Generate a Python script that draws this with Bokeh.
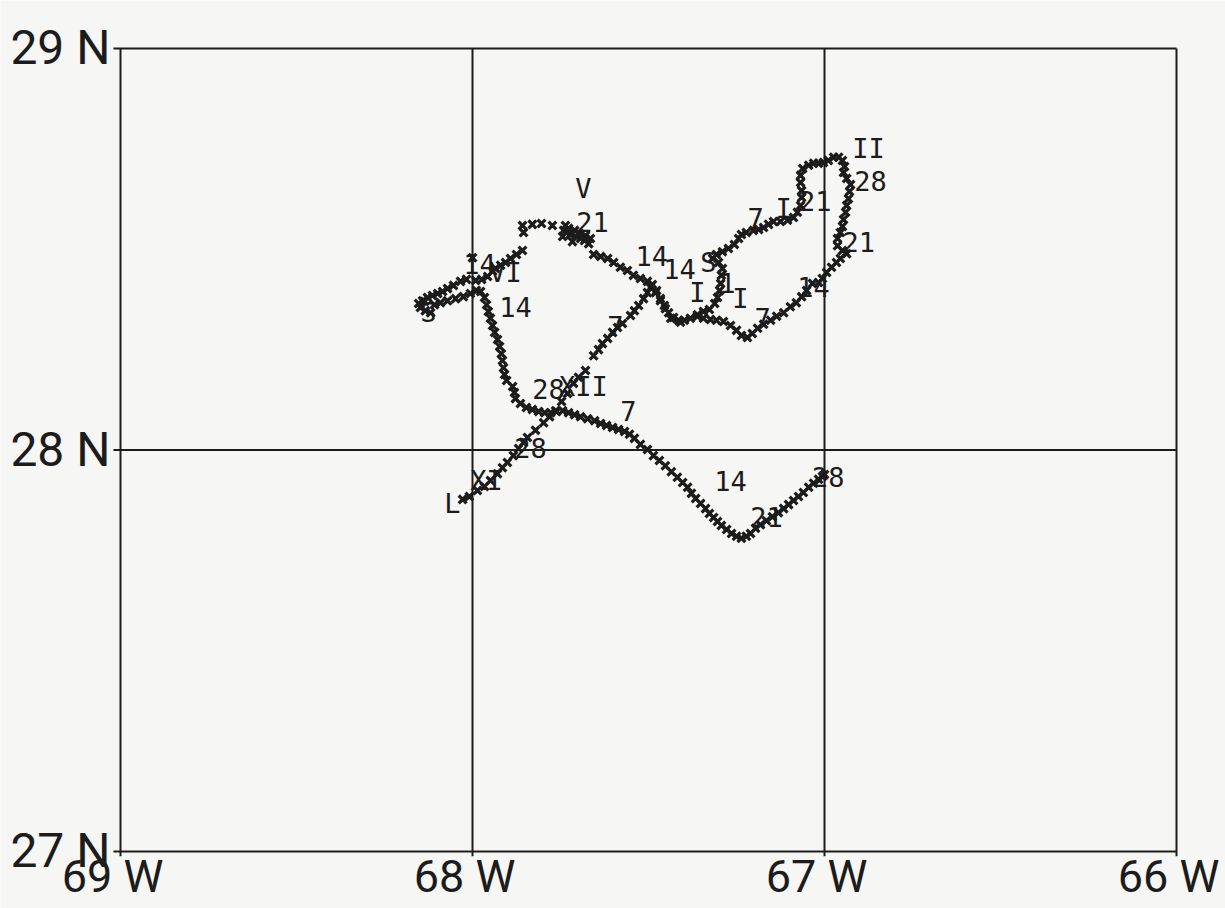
from bokeh.plotting import figure
from bokeh.models import Range1d, ColumnDataSource
from bokeh.core.properties import value
from bokeh.embed import file_html
from bokeh.resources import INLINE

# ---- axis ticks ----
lon_ticks = [-69, -68, -67, -66]
lon_tick_labels = ["69 W", "68 W", "67 W", "66 W"]
lat_ticks = [29, 28, 27]
lat_tick_labels = ["29 N", "28 N", "27 N"]

# ---- drifter track (lon, lat), one marker per fix ----
track_lon = [
    -68.028, -68.009, -67.986, -67.966, -67.949, -67.929, -67.915, -67.901, -67.884, -67.869,
    -67.855, -67.844, -67.821, -67.798, -67.781, -67.764, -67.747, -67.730, -67.713, -67.699,
    -67.679, -67.656, -67.642, -67.631, -67.616, -67.602, -67.588, -67.574, -67.551, -67.540,
    -67.528, -67.514, -67.503, -67.494, -67.489,
    -67.477, -67.466, -67.455, -67.443, -67.429, -67.415, -67.398, -67.381, -67.361, -67.344,
    -67.327, -67.312, -67.304, -67.298, -67.295, -67.293, -67.290, -67.301, -67.318, -67.307,
    -67.290, -67.273, -67.256, -67.244, -67.236, -67.222, -67.202, -67.187, -67.173, -67.159,
    -67.145, -67.125, -67.105, -67.088, -67.077, -67.068, -67.065, -67.065, -67.068, -67.068,
    -67.062, -67.045, -67.031, -67.017, -67.003, -66.989, -66.974, -66.960, -66.949, -66.943,
    -66.946, -66.937, -66.926, -66.929, -66.932, -66.937, -66.940, -66.946, -66.949, -66.955,
    -66.963, -66.963, -66.949, -66.937, -66.955, -66.966, -66.980, -66.994, -67.006, -67.017,
    -67.034, -67.051, -67.065, -67.080, -67.097, -67.116, -67.136, -67.153, -67.173, -67.190,
    -67.205, -67.219, -67.236, -67.250, -67.267, -67.287, -67.307, -67.324, -67.344, -67.361,
    -67.409, -67.437, -67.452, -67.466, -67.480,
    -67.503, -67.523, -67.543, -67.560, -67.580, -67.599, -67.616, -67.636, -67.656,
    -67.670, -67.682, -67.693, -67.707, -67.722, -67.733, -67.741, -67.727, -67.710, -67.696,
    -67.679, -67.665, -67.736, -67.744, -67.716,
    -67.773, -67.804, -67.830, -67.858, -67.855,
    -67.858, -67.875, -67.892, -67.906, -67.920, -67.935, -67.943, -67.957, -67.974, -67.991,
    -68.000, -68.017, -68.034, -68.054, -68.071, -68.085, -68.099, -68.114, -68.128, -68.142,
    -68.153, -68.148, -68.134, -68.119, -68.136, -68.108, -68.091, -68.071, -68.048, -68.026,
    -68.006, -67.989, -67.977, -67.966, -67.960, -67.955, -67.949, -67.943, -67.937, -67.929,
    -67.923, -67.918, -67.915, -67.912, -67.909, -67.903, -67.886, -67.881, -67.878, -67.864,
    -67.847, -67.830, -67.812, -67.795, -67.778, -67.761, -67.744, -67.727, -67.710, -67.693,
    -67.673, -67.653, -67.636, -67.619, -67.602, -67.585, -67.568, -67.554, -67.540, -67.523,
    -67.503, -67.486, -67.469, -67.452, -67.435, -67.418, -67.403, -67.389, -67.378, -67.366,
    -67.352, -67.338, -67.327, -67.315, -67.304, -67.293, -67.278, -67.264, -67.250, -67.236,
    -67.222, -67.210, -67.196, -67.182, -67.165, -67.148, -67.131, -67.116, -67.102, -67.088,
    -67.074, -67.060, -67.045, -67.031, -67.017, -67.006, -67.000,
]
track_lat = [
    27.877, 27.884, 27.899, 27.909, 27.924, 27.941, 27.956, 27.969, 27.986, 28.004,
    28.019, 28.031, 28.049, 28.068, 28.083, 28.098, 28.121, 28.141, 28.166, 28.181,
    28.198, 28.235, 28.250, 28.265, 28.278, 28.293, 28.305, 28.315, 28.335, 28.347,
    28.360, 28.377, 28.392, 28.405, 28.412,
    28.397, 28.377, 28.360, 28.342, 28.330, 28.323, 28.323, 28.328, 28.337, 28.345,
    28.350, 28.365, 28.380, 28.397, 28.415, 28.435, 28.452, 28.467, 28.477, 28.487,
    28.494, 28.502, 28.512, 28.527, 28.537, 28.542, 28.547, 28.549, 28.554, 28.562,
    28.569, 28.569, 28.572, 28.579, 28.592, 28.609, 28.629, 28.646, 28.666, 28.684,
    28.701, 28.709, 28.714, 28.714, 28.716, 28.721, 28.729, 28.729, 28.721, 28.706,
    28.691, 28.676, 28.661, 28.644, 28.626, 28.609, 28.592, 28.574, 28.557, 28.542,
    28.527, 28.509, 28.497, 28.489, 28.477, 28.467, 28.455, 28.442, 28.427, 28.417,
    28.415, 28.397, 28.382, 28.367, 28.357, 28.342, 28.333, 28.323, 28.313, 28.303,
    28.290, 28.280, 28.285, 28.298, 28.310, 28.320, 28.323, 28.325, 28.328, 28.333,
    28.318, 28.328, 28.352, 28.372, 28.392,
    28.420, 28.427, 28.435, 28.447, 28.455, 28.467, 28.477, 28.482, 28.487,
    28.514, 28.522, 28.527, 28.532, 28.537, 28.542, 28.547, 28.552, 28.547, 28.539,
    28.534, 28.527, 28.559, 28.532, 28.519,
    28.559, 28.564, 28.562, 28.559, 28.542,
    28.497, 28.487, 28.477, 28.467, 28.460, 28.452, 28.445, 28.432, 28.425, 28.422,
    28.479, 28.425, 28.420, 28.410, 28.402, 28.395, 28.390, 28.385, 28.380, 28.372,
    28.365, 28.355, 28.347, 28.342, 28.370, 28.362, 28.367, 28.372, 28.377, 28.382,
    28.390, 28.397, 28.395, 28.380, 28.362, 28.345, 28.328, 28.310, 28.293, 28.275,
    28.258, 28.240, 28.223, 28.205, 28.188, 28.173, 28.158, 28.143, 28.128, 28.116,
    28.106, 28.101, 28.096, 28.093, 28.093, 28.096, 28.098, 28.093, 28.088, 28.083,
    28.078, 28.073, 28.066, 28.061, 28.056, 28.051, 28.046, 28.039, 28.029, 28.014,
    28.001, 27.986, 27.974, 27.961, 27.946, 27.932, 27.919, 27.907, 27.892, 27.879,
    27.867, 27.854, 27.842, 27.832, 27.822, 27.812, 27.802, 27.792, 27.785, 27.780,
    27.785, 27.792, 27.805, 27.814, 27.824, 27.834, 27.844, 27.854, 27.864, 27.874,
    27.884, 27.894, 27.907, 27.917, 27.927, 27.934, 27.939,
]

# ---- date / month annotations along the track ----
label_text = ["II", "28", "7", "I", "21", "21", "14", "7", "I", "1", "S", "14", "14", "I",
              "7", "V", "21", "14", "VI", "14", "S", "28", "XII", "7", "28", "XI", "L",
              "14", "21", "28"]
label_lon = [-66.875, -66.869, -67.196, -67.116, -67.026, -66.903, -67.031, -67.176, -67.239,
             -67.276, -67.330, -67.491, -67.412, -67.361, -67.594, -67.685, -67.659, -67.980,
             -67.906, -67.878, -68.125, -67.784, -67.685, -67.557, -67.835, -67.960, -68.057,
             -67.267, -67.165, -66.989]
label_lat = [28.751, 28.671, 28.577, 28.601, 28.621, 28.517, 28.405, 28.328, 28.377,
             28.415, 28.467, 28.484, 28.452, 28.392, 28.310, 28.652, 28.567, 28.464,
             28.442, 28.357, 28.342, 28.153, 28.158, 28.098, 28.006, 27.924, 27.867,
             27.924, 27.834, 27.932]

INK = "#1c1c1c"
PAPER = "#f6f6f4"

p = figure(width=1225, height=908, output_backend="svg", toolbar_location=None,
           x_axis_location=None, y_axis_location=None, min_border=0,
           x_range=Range1d(-69.3409, -65.8608), y_range=Range1d(26.8580, 29.1196),
           background_fill_color=PAPER, border_fill_color=PAPER, outline_line_color=None)
p.xgrid.visible = False
p.ygrid.visible = False

# frame and grid lines (graticule)
lon_min, lon_max = min(lon_ticks), max(lon_ticks)
lat_min, lat_max = min(lat_ticks), max(lat_ticks)
p.segment(x0=[lon_min - 0.02] * len(lat_ticks), y0=lat_ticks,
          x1=[lon_max] * len(lat_ticks), y1=lat_ticks, line_color=INK, line_width=2)
p.segment(x0=lon_ticks, y0=[lat_min - 0.012] * len(lon_ticks),
          x1=lon_ticks, y1=[lat_max] * len(lon_ticks), line_color=INK, line_width=2)

# track markers
src = ColumnDataSource(dict(lon=track_lon, lat=track_lat))
p.scatter("lon", "lat", source=src, marker="x", size=11, line_width=3.2, line_color=INK)

# annotations
lsrc = ColumnDataSource(dict(x=label_lon, y=label_lat, t=label_text))
p.text("x", "y", text="t", source=lsrc, text_font=value("DejaVu Sans Mono"),
       text_font_size="27px", text_color=INK, text_align="center", text_baseline="middle")

# tick labels
p.text(x=[lon_min] * len(lat_ticks), y=lat_ticks, text=lat_tick_labels,
       text_font=value("Roboto"), text_font_size="48px", text_color=INK,
       text_align="right", text_baseline="alphabetic", x_offset=-10, y_offset=-1)
p.text(x=lon_ticks, y=[lat_min] * len(lon_ticks), text=lon_tick_labels,
       text_font=value("Roboto"), text_font_size="45px", text_color=INK,
       text_align="center", text_baseline="top", x_offset=-8, y_offset=-1)

open("out.html", "w").write(file_html(p, INLINE))
